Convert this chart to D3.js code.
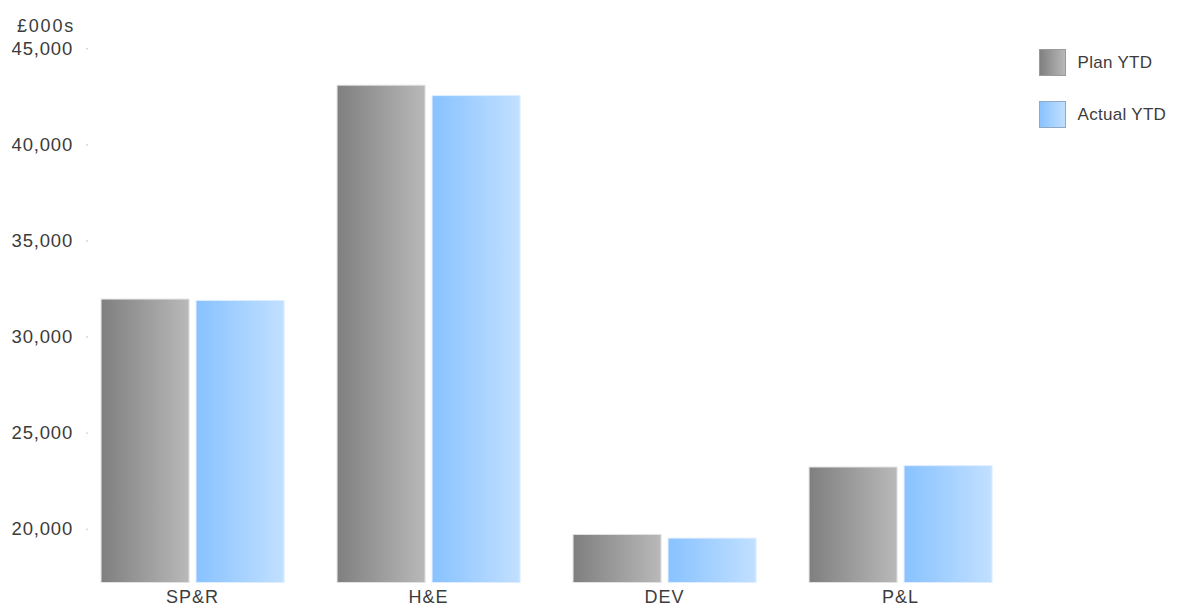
<!DOCTYPE html>
<html>
<head>
<meta charset="utf-8">
<script src="https://cdn.jsdelivr.net/npm/d3@7/dist/d3.min.js"></script>
<style>
  html, body { margin: 0; padding: 0; background: #fff; }
  svg text { font-family: "Liberation Sans", Arial, sans-serif; fill: #3c3c3c; }
</style>
</head>
<body>
<svg id="chart" width="1180" height="608"></svg>
<script>
// Departments shown along the x axis
const categories = ["SP&R", "H&E", "DEV", "P&L"];
// Series names (legend order)
const seriesNames = ["Plan YTD", "Actual YTD"];
// Year-to-date values, £000s
const planYTD   = [31950, 43080, 19700, 23210];
const actualYTD = [31880, 42540, 19510, 23280];
// Y axis tick values
const yTicks = [20000, 25000, 30000, 35000, 40000, 45000];
const yMin = 17200, yMax = 45000;

const svg = d3.select("#chart");

const x = d3.scaleBand().domain(categories).range([74.5, 1018.5]).paddingInner(0).paddingOuter(0);
const xs = d3.scaleBand().domain(seriesNames)
  .range([x.bandwidth() * 0.1125, x.bandwidth() * 0.888]).paddingInner(0.0737);
const y = d3.scaleLinear().domain([yMin, yMax]).range([582.5, 48.3]);

// Horizontal gradients for the bars
const defs = svg.append("defs");
const grads = [
  { id: "g-plan", from: "#7f7f7f", to: "#b9b9b9", stroke: "#e2e2e2", lstroke: "#9a9a9a" },
  { id: "g-actual", from: "#88c2ff", to: "#c2e0ff", stroke: "#deeeff", lstroke: "#8fa9c4" }
];
grads.forEach(g => {
  const lg = defs.append("linearGradient").attr("id", g.id)
    .attr("x1", "0%").attr("x2", "100%").attr("y1", "0%").attr("y2", "0%");
  lg.append("stop").attr("offset", "0%").attr("stop-color", g.from);
  lg.append("stop").attr("offset", "100%").attr("stop-color", g.to);
});

const labelFont = "'Liberation Sans', Arial, sans-serif";

// Y axis
const yAxis = d3.axisLeft(y).tickValues(yTicks).tickSize(2).tickPadding(13)
  .tickFormat(d3.format(","));
const gy = svg.append("g").attr("transform", "translate(88,0)").call(yAxis);
gy.select(".domain").remove();
gy.selectAll(".tick line").attr("stroke", "#c8c8c8");
gy.selectAll(".tick text").attr("font-size", 18.5).attr("letter-spacing", 0.8)
  .style("font-family", labelFont).attr("fill", "#3c3c3c");

svg.append("text").attr("x", 75).attr("y", 31.5).attr("text-anchor", "end")
  .attr("font-size", 18).attr("letter-spacing", 1.8).text("£000s");

// Bars
const series = [planYTD, actualYTD];
const groups = svg.append("g").selectAll("g").data(categories).join("g")
  .attr("transform", d => `translate(${x(d)},0)`);

groups.selectAll("rect")
  .data((c, i) => seriesNames.map((s, k) => ({ s, k, v: series[k][i] })))
  .join("rect")
  .attr("x", d => xs(d.s))
  .attr("width", xs.bandwidth())
  .attr("y", d => y(d.v))
  .attr("height", d => y(yMin) - y(d.v))
  .attr("fill", d => `url(#${grads[d.k].id})`)
  .attr("stroke", d => grads[d.k].stroke)
  .attr("stroke-width", 1);

// X axis labels
const xAxis = d3.axisBottom(x).tickSize(0).tickPadding(8);
const gx = svg.append("g").attr("transform", `translate(0,${y(yMin)})`).call(xAxis);
gx.select(".domain").remove();
gx.selectAll(".tick text").attr("font-size", 18).attr("letter-spacing", 1)
  .style("font-family", labelFont).attr("fill", "#3c3c3c");

// Legend
const legend = svg.append("g").selectAll("g").data(seriesNames).join("g")
  .attr("transform", (d, i) => `translate(1039.5,${49.5 + i * 52})`);
legend.append("rect").attr("width", 26).attr("height", 26)
  .attr("fill", (d, i) => `url(#${grads[i].id})`)
  .attr("stroke", (d, i) => grads[i].lstroke).attr("stroke-width", 1);
legend.append("text").attr("x", 38).attr("y", 13).attr("dy", "0.35em")
  .attr("font-size", 17).attr("letter-spacing", 0.3).text(d => d);
</script>
</body>
</html>
